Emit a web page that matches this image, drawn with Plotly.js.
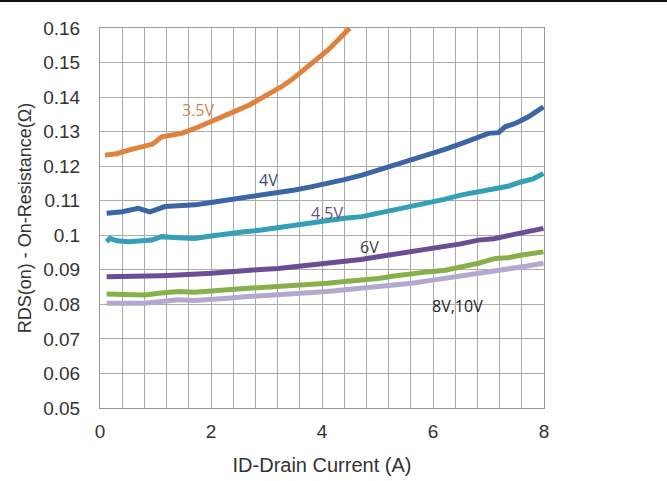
<!DOCTYPE html>
<html>
<head>
<meta charset="utf-8">
<script src="https://cdn.plot.ly/plotly-3.0.1.min.js"></script>
<style>
html,body{margin:0;padding:0;background:#fff;}
#wrap{width:667px;height:481px;position:relative;}
#topline{position:absolute;left:0;top:0;width:667px;height:2px;background:#111;z-index:5;}
#chart{width:667px;height:481px;}
</style>
</head>
<body>
<div id="wrap"><div id="topline"></div><div id="chart"></div></div>
<script>
// Drain current (A) and RDS(on) (Ohm) per gate voltage
const x35 = [0.09, 0.3, 0.55, 0.81, 0.95, 1.11, 1.3, 1.47, 1.75, 2.01, 2.25, 2.49, 2.7, 2.91, 3.1, 3.27, 3.45, 3.63, 3.8, 3.99, 4.1, 4.23, 4.36, 4.5];
const y35 = [0.1232, 0.1236, 0.1248, 0.1258, 0.1264, 0.1285, 0.1290, 0.1295, 0.1312, 0.1329, 0.1345, 0.1363, 0.1378, 0.1396, 0.1412, 0.1430, 0.1450, 0.1473, 0.1494, 0.1517, 0.1535, 0.1556, 0.1578, 0.1600];

const x4 = [0.12, 0.4, 0.69, 0.9, 1.17, 1.45, 1.71, 2.0, 2.31, 2.6, 2.91, 3.2, 3.51, 3.8, 4.11, 4.4, 4.72, 5.0, 5.32, 5.6, 5.92, 6.2, 6.52, 6.75, 7.0, 7.18, 7.3, 7.5, 7.72, 7.99];
const y4 = [0.1064, 0.1068, 0.1078, 0.1068, 0.1083, 0.1085, 0.1088, 0.1095, 0.1102, 0.1109, 0.1117, 0.1124, 0.1131, 0.1140, 0.1150, 0.1161, 0.1174, 0.1188, 0.1203, 0.1217, 0.1232, 0.1248, 0.1266, 0.1280, 0.1295, 0.1297, 0.1314, 0.1325, 0.1343, 0.1372];

const x45 = [0.12, 0.18, 0.3, 0.51, 0.93, 1.11, 1.4, 1.71, 2.0, 2.31, 2.6, 2.91, 3.2, 3.51, 3.8, 4.11, 4.4, 4.72, 5.0, 5.32, 5.6, 5.92, 6.2, 6.52, 6.8, 7.12, 7.35, 7.6, 7.8, 7.99];
const y45 = [0.0981, 0.0991, 0.0984, 0.0981, 0.0986, 0.0996, 0.0993, 0.0991, 0.0998, 0.1006, 0.1010, 0.1015, 0.1022, 0.1030, 0.1037, 0.1044, 0.1049, 0.1054, 0.1063, 0.1073, 0.1083, 0.1093, 0.1104, 0.1117, 0.1126, 0.1136, 0.1142, 0.1155, 0.1163, 0.1179];

const x6 = [0.12, 0.5, 0.81, 1.1, 1.41, 1.7, 2.01, 2.3, 2.61, 2.9, 3.21, 3.5, 3.81, 4.1, 4.41, 4.7, 5.01, 5.3, 5.62, 5.9, 6.22, 6.5, 6.82, 7.1, 7.42, 7.7, 7.99];
const y6 = [0.0880, 0.0880, 0.0880, 0.0883, 0.0885, 0.0886, 0.0890, 0.0894, 0.0899, 0.0901, 0.0904, 0.0909, 0.0914, 0.0918, 0.0923, 0.0930, 0.0938, 0.0945, 0.0952, 0.0959, 0.0967, 0.0975, 0.0986, 0.0990, 0.1001, 0.1009, 0.1020];

const x8 = [0.12, 0.5, 0.81, 1.1, 1.41, 1.7, 2.01, 2.3, 2.61, 2.9, 3.21, 3.5, 3.81, 4.1, 4.41, 4.7, 5.01, 5.3, 5.62, 5.9, 6.22, 6.5, 6.82, 7.12, 7.35, 7.6, 7.8, 7.99];
const y8 = [0.0830, 0.0829, 0.0827, 0.0833, 0.0837, 0.0835, 0.0837, 0.0842, 0.0846, 0.0849, 0.0851, 0.0853, 0.0856, 0.0861, 0.0866, 0.0870, 0.0875, 0.0882, 0.0890, 0.0894, 0.0899, 0.0907, 0.0919, 0.0933, 0.0935, 0.0943, 0.0946, 0.0952];

const x10 = [0.12, 0.5, 0.81, 1.1, 1.41, 1.7, 2.01, 2.3, 2.61, 2.9, 3.21, 3.5, 3.81, 4.1, 4.41, 4.7, 5.01, 5.3, 5.62, 5.9, 6.22, 6.5, 6.82, 7.1, 7.42, 7.7, 7.99];
const y10 = [0.0803, 0.0803, 0.0803, 0.0808, 0.0813, 0.0811, 0.0813, 0.0818, 0.0822, 0.0825, 0.0827, 0.0829, 0.0832, 0.0837, 0.0842, 0.0846, 0.0851, 0.0856, 0.0861, 0.0868, 0.0875, 0.0882, 0.0890, 0.0895, 0.0904, 0.0911, 0.0919];

const labelText = ['3.5V', '4V', '4.5V', '6V', '8V,10V'];
const labelX = [1.78, 3.03, 4.09, 4.86, 6.45];
const labelY = [0.1363, 0.1160, 0.1064, 0.0966, 0.0795];
const labelColor = ['#cc8757', '#344f78', '#6a4f8a', '#3a3a3a', '#222222'];

const series = [
  {x: x35, y: y35, c: '#e0813c'},
  {x: x4, y: y4, c: '#3c65a5'},
  {x: x45, y: y45, c: '#33a0b5'},
  {x: x6, y: y6, c: '#6a4d93'},
  {x: x8, y: y8, c: '#88b04a'},
  {x: x10, y: y10, c: '#b4a8d0'}
];

const traces = series.map(s => ({
  x: s.x, y: s.y, type: 'scatter', mode: 'lines',
  line: {color: s.c, width: 5, shape: 'linear'},
  hoverinfo: 'skip', showlegend: false
}));

const annotations = labelText.map((t, i) => ({
  x: labelX[i], y: labelY[i], xref: 'x', yref: 'y', text: t, showarrow: false,
  font: {family: 'Open Sans, sans-serif', size: 16, color: labelColor[i]}
}));

const layout = {
  width: 667, height: 481,
  margin: {l: 100, r: 123, t: 28, b: 73},
  paper_bgcolor: '#ffffff', plot_bgcolor: '#ffffff',
  showlegend: false,
  font: {family: 'Liberation Sans, Arial, sans-serif', color: '#333333'},
  xaxis: {
    range: [0, 8], dtick: 2, tick0: 0,
    showgrid: true, gridcolor: '#ababab', gridwidth: 1,
    minor: {dtick: 0.4, showgrid: true, gridcolor: '#ababab', gridwidth: 1},
    showline: true, linecolor: '#9a9a9a', linewidth: 1, mirror: true,
    zeroline: false, ticks: '', ticklabelstandoff: 6,
    tickfont: {size: 19, color: '#333333'},
    title: {text: 'ID-Drain Current (A)', font: {size: 20, color: '#333333'}, standoff: 17}
  },
  yaxis: {
    range: [0.05, 0.16], dtick: 0.01, tick0: 0.05,
    showgrid: true, gridcolor: '#ababab', gridwidth: 1,
    showline: true, linecolor: '#9a9a9a', linewidth: 1, mirror: true,
    zeroline: false, ticks: 'outside', ticklen: 15, tickcolor: 'rgba(0,0,0,0)',
    tickfont: {size: 19, color: '#333333'},
    title: {text: 'RDS(on) - On-Resistance(Ω)', font: {size: 18, color: '#333333'}, standoff: 6}
  },
  annotations: annotations
};

Plotly.newPlot('chart', traces, layout, {displayModeBar: false, staticPlot: true});
</script>
</body>
</html>
